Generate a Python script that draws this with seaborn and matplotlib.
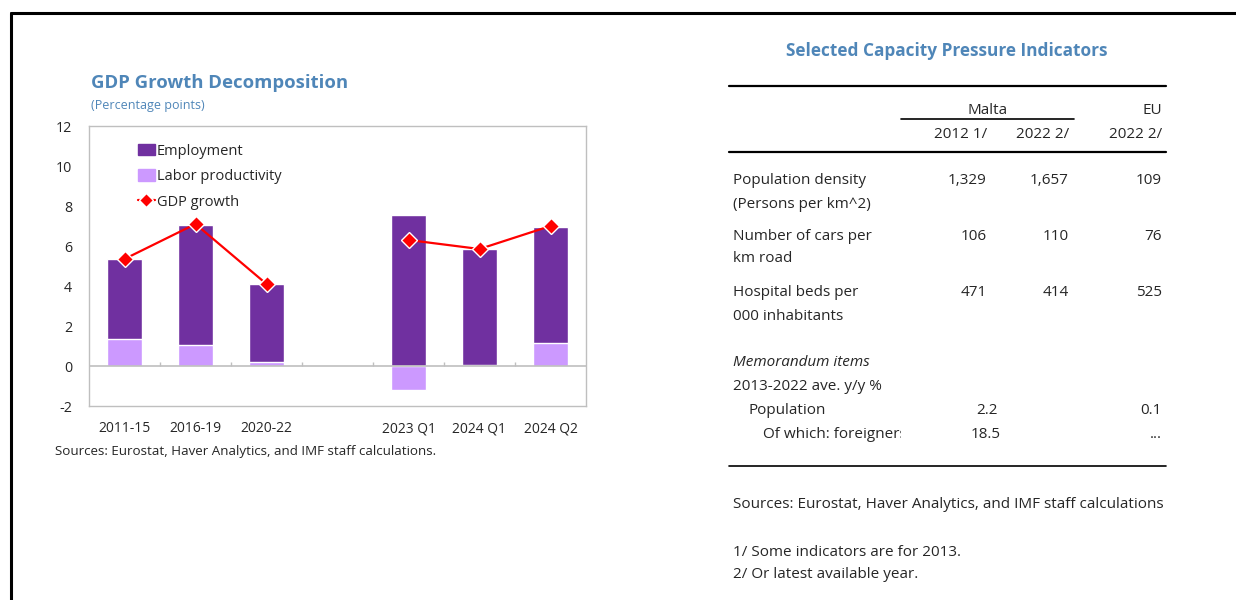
import numpy as np
import pandas as pd
import matplotlib
matplotlib.use("Agg")
import matplotlib.pyplot as plt
from matplotlib.patches import Patch
from matplotlib.lines import Line2D
from matplotlib.transforms import Bbox, TransformedBbox
import seaborn as sns

# --- data (left chart) ---
categories = ["2011-15", "2016-19", "2020-22", " ", "2023 Q1", "2024 Q1", "2024 Q2"]
employment = [4.0, 6.0, 3.9, np.nan, 7.55, 5.8, 5.8]
labor_productivity = [1.35, 1.05, 0.2, np.nan, -1.2, 0.05, 1.15]
gdp_growth = [5.35, 7.1, 4.1, np.nan, 6.3, 5.85, 7.0]
segment = [1, 1, 1, 0, 2, 2, 2]

# --- data (right table) ---
row_labels = [("Population density", "(Persons per km^2)"),
              ("Number of cars per", "km road"),
              ("Hospital beds per", "000 inhabitants")]
malta_2012 = ["1,329", "106", "471"]
malta_2022 = ["1,657", "110", "414"]
eu_2022 = ["109", "76", "525"]
memo_labels = ["Population", "Of which: foreigners"]
memo_malta = ["2.2", "18.5"]
memo_eu = ["0.1", "..."]

EMP = "#7030A0"
LP = "#CC99FF"
BLUE = "#4F86B8"
GRID = "#BFBFBF"

sns.set_theme(style="white")
plt.rcParams["font.family"] = ["Open Sans", "DejaVu Sans"]
plt.rcParams["axes.unicode_minus"] = False

df = pd.DataFrame({"cat": categories, "emp": employment, "lp": labor_productivity,
                   "gdp": gdp_growth, "seg": segment})
# positive parts stack on top of each other, negative parts go below zero
df["emp_top"] = df["emp"] + df["lp"].clip(lower=0)

fig = plt.figure(figsize=(12.36, 6.0), dpi=100)

# overlay in pixel coordinates for frame, titles and table
ov = fig.add_axes([0, 0, 1, 1], zorder=0)
ov.set_xlim(0, 1236)
ov.set_ylim(600, 0)
ov.axis("off")

ax = fig.add_axes([89 / 1236, (600 - 406) / 600, 497 / 1236, 280 / 600], zorder=2)

sns.barplot(data=df, x="cat", y="emp_top", order=categories, color=EMP,
            saturation=1, width=0.5, ax=ax, zorder=2)
sns.barplot(data=df, x="cat", y="lp", order=categories, color=LP,
            saturation=1, width=0.5, ax=ax, zorder=3)
line_df = df.dropna(subset=["gdp"])
sns.lineplot(data=line_df, x="cat", y="gdp", units="seg", estimator=None,
             color="#FF0000", lw=1.6, marker="D", markersize=8,
             markerfacecolor="#FF0000", markeredgecolor="white", markeredgewidth=1,
             ax=ax, zorder=5, legend=False)

ax.set_ylim(-2, 12)
ax.set_xlim(-0.5, len(categories) - 0.5)
ax.set_yticks(range(-2, 13, 2))
ax.set_xlabel("")
ax.set_ylabel("")
ax.axhline(0, color=GRID, lw=1.2, zorder=4)
ax.vlines(np.arange(0.5, len(categories) - 1), 0, 0.22, color=GRID, lw=1, zorder=4)
for s in ax.spines.values():
    s.set_color(GRID)
    s.set_linewidth(1)
ax.tick_params(axis="y", direction="in", length=4, color=GRID, labelsize=10.3, pad=12)
ax.tick_params(axis="x", length=0, labelsize=10, pad=11)

handles = [Patch(color=EMP), Patch(color=LP),
           Line2D([0], [0], color="#FF0000", lw=1.6, marker="D", markersize=7,
                  markerfacecolor="#FF0000", markeredgecolor="white")]
ax.legend(handles, ["Employment", "Labor productivity", "GDP growth"],
          loc="upper left", bbox_to_anchor=(0.098, 0.937), frameon=False,
          fontsize=10.5, handlelength=1.2, handleheight=0.8, handletextpad=0.1,
          labelspacing=0.72, borderaxespad=0, borderpad=0)

# frame
ov.plot([11, 1236], [13, 13], color="black", lw=2.2)
ov.plot([11, 11], [13, 600], color="black", lw=2.2)

# left chart titles
ov.text(91, 83, "GDP Growth Decomposition", fontsize=13.3, fontweight="bold",
        color=BLUE, va="center", ha="left")
ov.text(91, 105, "(Percentage points)", fontsize=9, color=BLUE, va="center", ha="left")
ov.text(55, 452, "Sources: Eurostat, Haver Analytics, and IMF staff calculations.",
        fontsize=9.6, va="center", ha="left")

# right table
ov.text(947, 51, "Selected Capacity Pressure Indicators", fontsize=12.4, fontweight="bold",
        color=BLUE, va="center", ha="center")
ov.plot([729, 1166], [86, 86], color="black", lw=1.6)
ov.plot([729, 1166], [152, 152], color="black", lw=1.6)
ov.plot([901, 1074], [119, 119], color="black", lw=1.2)
ov.plot([729, 1166], [466, 466], color="black", lw=1.2)

fs = 11
dy = 2
c1, c2, c3 = 987, 1069, 1162
ov.text(988, 108 + dy, "Malta", fontsize=fs, ha="center", va="center")
ov.text(c3, 108 + dy, "EU", fontsize=fs, ha="right", va="center")
ov.text(c1, 132 + dy, "2012 1/", fontsize=fs, ha="right", va="center")
ov.text(c2, 132 + dy, "2022 2/", fontsize=fs, ha="right", va="center")
ov.text(c3, 132 + dy, "2022 2/", fontsize=fs, ha="right", va="center")

row_y = [179, 234, 291]
for (l1, l2), a, b, c, y in zip(row_labels, malta_2012, malta_2022, eu_2022, row_y):
    y = y + dy
    ov.text(733, y, l1, fontsize=fs, ha="left", va="center")
    ov.text(733, y + 23, l2, fontsize=fs, ha="left", va="center")
    ov.text(c1, y, a, fontsize=fs, ha="right", va="center")
    ov.text(c2, y, b, fontsize=fs, ha="right", va="center")
    ov.text(c3, y, c, fontsize=fs, ha="right", va="center")

ov.text(733, 361 + dy, "Memorandum items", fontsize=fs, style="italic", ha="left", va="center")
ov.text(733, 384 + dy, "2013-2022 ave. y/y %", fontsize=fs, ha="left", va="center")
memo_x = [748, 763]
memo_y = [408, 432]
memo_right = [998, 1001]
for lab, m, e, x, y, r in zip(memo_labels, memo_malta, memo_eu, memo_x, memo_y, memo_right):
    y = y + dy
    t = ov.text(x, y, lab, fontsize=fs, ha="left", va="center", clip_on=True)
    t.set_clip_box(TransformedBbox(Bbox([[700, 0], [901, 600]]), ov.transData))
    ov.text(r, y, m, fontsize=fs, ha="right", va="center")
    ov.text(c3, y, e, fontsize=fs, ha="right", va="center")

ov.text(733, 503 + dy, "Sources: Eurostat, Haver Analytics, and IMF staff calculations",
        fontsize=fs, ha="left", va="center")
ov.text(733, 550 + dy, "1/ Some indicators are for 2013.", fontsize=fs, ha="left", va="center")
ov.text(733, 573 + dy, "2/ Or latest available year.", fontsize=fs, ha="left", va="center")

fig.savefig("out.png", dpi=100)
